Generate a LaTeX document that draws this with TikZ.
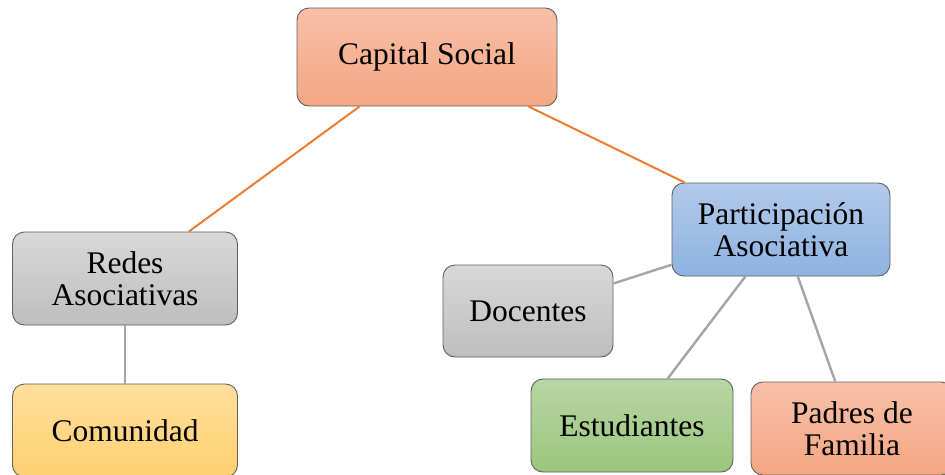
\documentclass[tikz,border=0pt]{standalone}
\usepackage{fontspec}
\setmainfont{Liberation Serif}
\usetikzlibrary{calc}
\definecolor{salmonT}{RGB}{248,192,168}
\definecolor{salmonB}{RGB}{244,166,130}
\definecolor{greyT}{RGB}{216,216,216}
\definecolor{greyB}{RGB}{190,190,190}
\definecolor{sandT}{RGB}{255,222,156}
\definecolor{sandB}{RGB}{255,208,112}
\definecolor{skyT}{RGB}{178,202,234}
\definecolor{skyB}{RGB}{142,178,226}
\definecolor{leafT}{RGB}{184,214,164}
\definecolor{leafB}{RGB}{154,198,124}
\definecolor{edgeline}{RGB}{96,96,96}
\definecolor{linkorange}{RGB}{237,125,49}
\definecolor{linkgrey}{RGB}{165,165,165}

\begin{document}
\begin{tikzpicture}[x=1pt,y=-1pt]
\path [use as bounding box] (0,0) rectangle (945,474);
\clip (0,0) rectangle (945,474);
\tikzstyle{box} = [draw=edgeline, line width=0.9pt, rounded corners=12pt, inner sep=0pt,
  align=center, font=\fontsize{31.5}{32}\selectfont]
\tikzstyle{salmon} = [box, top color=salmonT, bottom color=salmonB]
\tikzstyle{grey} = [box, top color=greyT, bottom color=greyB]
\tikzstyle{sand} = [box, top color=sandT, bottom color=sandB]
\tikzstyle{sky} = [box, top color=skyT, bottom color=skyB]
\tikzstyle{leaf} = [box, top color=leafT, bottom color=leafB]
\tikzstyle{orangelink} = [linkorange, line width=2pt]
\tikzstyle{greylink} = [linkgrey, line width=2.4pt]
\node[salmon, minimum width=260pt, minimum height=98pt] (cap) at (427,57) {Capital Social};
\node[grey, minimum width=225pt, minimum height=93pt] (redes) at (125,278.5) {Redes\\Asociativas};
\node[sand, minimum width=225pt, minimum height=93pt] (com) at (125,430.5) {Comunidad};
\node[sky, minimum width=218pt, minimum height=93pt] (part) at (781,229.5) {Participación\\Asociativa};
\node[grey, minimum width=170pt, minimum height=92pt] (doc) at (528,311) {Docentes};
\node[leaf, minimum width=202pt, minimum height=93pt] (est) at (632,425.5) {Estudiantes};
\node[salmon, minimum width=202pt, minimum height=93pt] (pad) at (852,428.5) {Padres de\\Familia};
\draw[orangelink] (cap) -- (redes);
\draw[orangelink] (cap) -- (part);
\draw[greylink] (redes) -- (com);
\draw[greylink] (part) -- (doc);
\draw[greylink] (part) -- (est);
\draw[greylink] (part) -- (pad);
\end{tikzpicture}
\end{document}
